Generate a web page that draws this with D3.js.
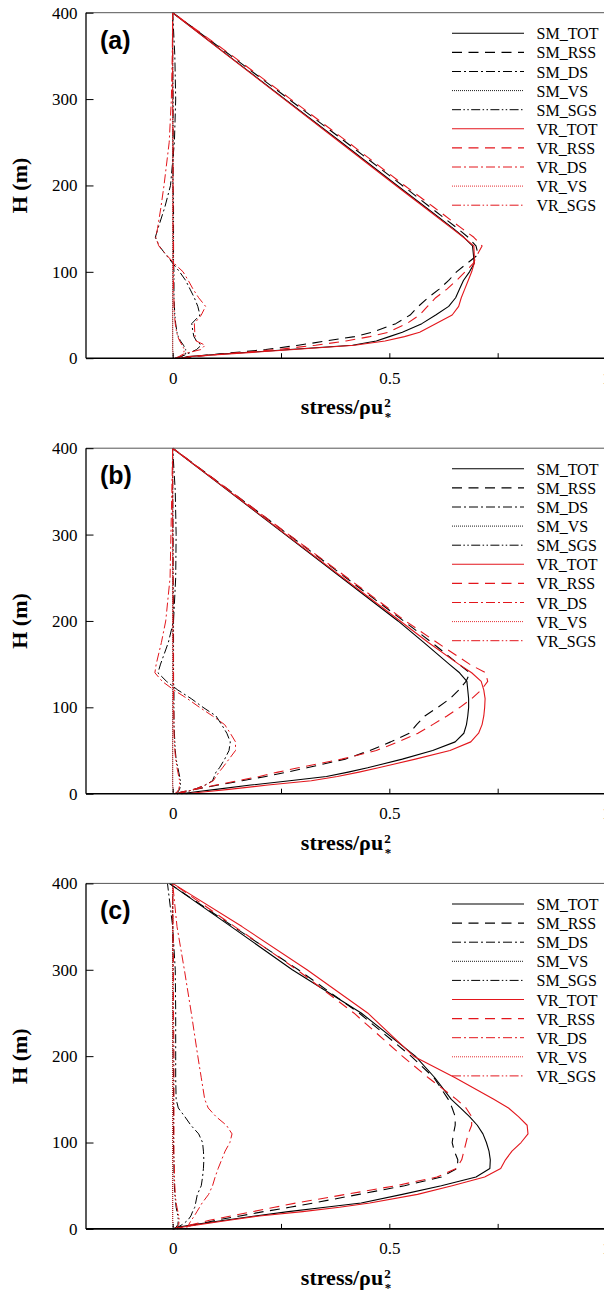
<!DOCTYPE html>
<html><head><meta charset="utf-8">
<script src="https://cdn.jsdelivr.net/npm/d3@7"></script>
<style>body{margin:0;background:#fff} svg{display:block}</style>
</head><body>
<svg id="chart" width="604" height="1296"></svg>
<script>
// ---------- DATA ----------
const seriesNames = ["SM_TOT","SM_RSS","SM_DS","SM_VS","SM_SGS","VR_TOT","VR_RSS","VR_DS","VR_VS","VR_SGS"];
const panelLabels = ["(a)","(b)","(c)"];
const xTickValues = [0, 0.25, 0.5, 0.75, 1];
const xTickLabels = ["0", "", "0.5", "", "1"];
const yTickValues = [0, 100, 200, 300, 400];
const heights = [0, 2, 5, 10, 15, 20, 25, 30, 40, 50, 60, 70, 80, 90, 100, 110, 120, 130, 140, 150, 175, 200, 250, 300, 350, 400];

// panel (a)
const aSM_TOT = [0.02, 0.035, 0.12, 0.27, 0.415, 0.47, 0.50, 0.53, 0.575, 0.607, 0.637, 0.653, 0.662, 0.671, 0.685, 0.696, 0.694, 0.692, 0.672, 0.648, 0.583, 0.518, 0.389, 0.259, 0.129, 0.0];
const aSM_RSS = [0.02, 0.05, 0.11, 0.215, 0.29, 0.355, 0.42, 0.46, 0.515, 0.548, 0.567, 0.589, 0.615, 0.637, 0.655, 0.68, 0.705, 0.70, 0.682, 0.658, 0.594, 0.53, 0.40, 0.268, 0.135, 0.0];
const aSM_DS  = [0.01, 0.02, 0.034, 0.055, 0.066, 0.055, 0.049, 0.047, 0.044, 0.063, 0.058, 0.05, 0.04, 0.03, 0.016, 0.0, -0.016, -0.031, -0.04, -0.034, -0.018, -0.005, 0.004, 0.007, 0.005, 0.0];
const aSM_VS  = [0.002, 0.001, 0.001, 0, 0, 0, 0, 0, 0, 0, 0, 0, 0, 0, 0, 0, 0, 0, 0, 0, 0, 0, 0, 0, 0, 0];
const aSM_SGS = [0.005, 0.02, 0.03, 0.03, 0.025, 0.018, 0.013, 0.01, 0.007, 0.005, 0.004, 0.003, 0.003, 0.003, 0.003, 0.002, 0.002, 0.002, 0.002, 0.002, 0.002, 0.001, 0.001, 0.001, 0.0, 0.0];
const aVR_TOT = [0.02, 0.04, 0.13, 0.28, 0.42, 0.49, 0.535, 0.57, 0.607, 0.645, 0.66, 0.666, 0.674, 0.682, 0.69, 0.696, 0.696, 0.695, 0.671, 0.645, 0.58, 0.515, 0.386, 0.257, 0.128, 0.0];
const aVR_RSS = [0.02, 0.05, 0.12, 0.24, 0.33, 0.40, 0.455, 0.497, 0.54, 0.57, 0.588, 0.607, 0.633, 0.655, 0.675, 0.694, 0.703, 0.714, 0.695, 0.668, 0.602, 0.535, 0.405, 0.272, 0.138, 0.0];
const aVR_DS  = [0.01, 0.02, 0.025, 0.065, 0.075, 0.054, 0.052, 0.051, 0.05, 0.066, 0.076, 0.06, 0.047, 0.036, 0.024, 0.003, -0.015, -0.032, -0.039, -0.035, -0.027, -0.02, -0.008, -0.003, -0.001, 0.0];
const aVR_VS  = [0.002, 0.001, 0.001, 0, 0, 0, 0, 0, 0, 0, 0, 0, 0, 0, 0, 0, 0, 0, 0, 0, 0, 0, 0, 0, 0, 0];
const aVR_SGS = [0.005, 0.015, 0.025, 0.027, 0.022, 0.016, 0.012, 0.009, 0.006, 0.004, 0.003, 0.003, 0.002, 0.002, 0.002, 0.002, 0.002, 0.002, 0.002, 0.001, 0.001, 0.001, 0.001, 0.0, 0.0, 0.0];

// panel (b)
const bSM_TOT = [0.02, 0.05, 0.1, 0.18, 0.27, 0.355, 0.405, 0.45, 0.53, 0.6, 0.652, 0.672, 0.678, 0.681, 0.683, 0.683, 0.681, 0.679, 0.662, 0.638, 0.58, 0.52, 0.39, 0.26, 0.13, 0.0];
const bSM_RSS = [0.01, 0.02, 0.05, 0.105, 0.16, 0.215, 0.264, 0.31, 0.398, 0.455, 0.503, 0.546, 0.563, 0.582, 0.612, 0.64, 0.66, 0.677, 0.686, 0.66, 0.598, 0.533, 0.40, 0.267, 0.134, 0.0];
const bSM_DS  = [0.01, 0.03, 0.05, 0.075, 0.092, 0.096, 0.1, 0.108, 0.12, 0.13, 0.133, 0.125, 0.113, 0.1, 0.07, 0.043, 0.012, -0.014, -0.034, -0.028, -0.01, 0.002, 0.007, 0.008, 0.006, 0.0];
const bSM_VS  = [0.002, 0.001, 0.001, 0, 0, 0, 0, 0, 0, 0, 0, 0, 0, 0, 0, 0, 0, 0, 0, 0, 0, 0, 0, 0, 0, 0];
const bSM_SGS = [0.005, 0.012, 0.016, 0.018, 0.018, 0.016, 0.014, 0.012, 0.008, 0.006, 0.005, 0.004, 0.003, 0.003, 0.003, 0.003, 0.003, 0.002, 0.002, 0.002, 0.002, 0.002, 0.001, 0.001, 0.0, 0.0];
const bVR_TOT = [0.03, 0.07, 0.13, 0.22, 0.32, 0.38, 0.43, 0.475, 0.56, 0.64, 0.688, 0.706, 0.714, 0.718, 0.72, 0.721, 0.718, 0.712, 0.69, 0.66, 0.59, 0.525, 0.393, 0.262, 0.131, 0.0];
const bVR_RSS = [0.01, 0.02, 0.05, 0.1, 0.15, 0.2, 0.243, 0.29, 0.39, 0.47, 0.52, 0.566, 0.60, 0.633, 0.663, 0.69, 0.712, 0.727, 0.722, 0.685, 0.61, 0.537, 0.403, 0.268, 0.134, 0.0];
const bVR_DS  = [0.01, 0.03, 0.05, 0.075, 0.094, 0.1, 0.107, 0.115, 0.13, 0.145, 0.145, 0.133, 0.12, 0.092, 0.062, 0.034, 0.003, -0.024, -0.041, -0.038, -0.026, -0.016, -0.006, -0.004, -0.002, 0.0];
const bVR_VS  = [0.002, 0.001, 0.001, 0, 0, 0, 0, 0, 0, 0, 0, 0, 0, 0, 0, 0, 0, 0, 0, 0, 0, 0, 0, 0, 0, 0];
const bVR_SGS = [0.005, 0.01, 0.014, 0.016, 0.016, 0.014, 0.012, 0.01, 0.007, 0.005, 0.004, 0.003, 0.003, 0.003, 0.002, 0.002, 0.002, 0.002, 0.002, 0.002, 0.001, 0.001, 0.001, 0.0, 0.0, 0.0];

// panel (c)
const cSM_TOT = [0.0, 0.01, 0.05, 0.12, 0.19, 0.267, 0.352, 0.435, 0.53, 0.62, 0.70, 0.732, 0.733, 0.73, 0.724, 0.716, 0.703, 0.685, 0.664, 0.643, 0.605, 0.56, 0.435, 0.276, 0.135, -0.008];
const cSM_RSS = [0.0, 0.02, 0.055, 0.1, 0.155, 0.21, 0.27, 0.325, 0.43, 0.535, 0.62, 0.657, 0.658, 0.65, 0.645, 0.648, 0.652, 0.652, 0.645, 0.636, 0.603, 0.55, 0.43, 0.29, 0.14, -0.008];
const cSM_DS  = [0.005, 0.012, 0.022, 0.035, 0.042, 0.046, 0.051, 0.053, 0.057, 0.066, 0.069, 0.071, 0.072, 0.071, 0.069, 0.06, 0.042, 0.028, 0.013, 0.008, 0.007, 0.007, 0.007, 0.006, 0.0, -0.012];
const cSM_VS  = [0.002, 0.001, 0.001, 0, 0, 0, 0, 0, 0, 0, 0, 0, 0, 0, 0, 0, 0, 0, 0, 0, 0, 0, 0, 0, 0, 0];
const cSM_SGS = [0.003, 0.008, 0.012, 0.013, 0.012, 0.01, 0.008, 0.007, 0.005, 0.004, 0.003, 0.003, 0.003, 0.002, 0.002, 0.002, 0.002, 0.002, 0.002, 0.002, 0.002, 0.001, 0.001, 0.001, 0.0, 0.0];
const cVR_TOT = [0.01, 0.02, 0.06, 0.13, 0.2, 0.3, 0.385, 0.455, 0.565, 0.645, 0.72, 0.757, 0.768, 0.783, 0.804, 0.82, 0.818, 0.798, 0.775, 0.741, 0.652, 0.556, 0.45, 0.31, 0.16, 0.0];
const cVR_RSS = [0.0, 0.02, 0.045, 0.085, 0.135, 0.185, 0.235, 0.285, 0.4, 0.515, 0.61, 0.655, 0.667, 0.672, 0.677, 0.682, 0.69, 0.69, 0.677, 0.655, 0.59, 0.53, 0.418, 0.287, 0.143, 0.0];
const cVR_DS  = [0.03, 0.034, 0.037, 0.043, 0.05, 0.056, 0.062, 0.068, 0.083, 0.092, 0.098, 0.105, 0.113, 0.121, 0.132, 0.137, 0.124, 0.1, 0.082, 0.074, 0.066, 0.058, 0.043, 0.027, 0.01, 0.0];
const cVR_VS  = [0.002, 0.001, 0.001, 0, 0, 0, 0, 0, 0, 0, 0, 0, 0, 0, 0, 0, 0, 0, 0, 0, 0, 0, 0, 0, 0, 0];
const cVR_SGS = [0.004, 0.01, 0.014, 0.015, 0.014, 0.012, 0.01, 0.008, 0.006, 0.005, 0.004, 0.004, 0.003, 0.003, 0.003, 0.003, 0.003, 0.003, 0.003, 0.003, 0.003, 0.003, 0.002, 0.002, 0.001, 0.0];

const panelSeries = [
  [aSM_TOT, aSM_RSS, aSM_DS, aSM_VS, aSM_SGS, aVR_TOT, aVR_RSS, aVR_DS, aVR_VS, aVR_SGS],
  [bSM_TOT, bSM_RSS, bSM_DS, bSM_VS, bSM_SGS, bVR_TOT, bVR_RSS, bVR_DS, bVR_VS, bVR_SGS],
  [cSM_TOT, cSM_RSS, cSM_DS, cSM_VS, cSM_SGS, cVR_TOT, cVR_RSS, cVR_DS, cVR_VS, cVR_SGS]
];

// ---------- STYLE ----------
const RED = "#e3161c";
const dashFor = {TOT: null, RSS: "10,6.5", DS: "9,3,2,3", VS: "1,1", SGS: "9,2.4,1.5,2.4,1.5,2.4"};
const widthFor = {TOT: 1.1, RSS: 1.1, DS: 1.0, VS: 0.9, SGS: 1.0};
function styleOf(name) {
  const [grp, comp] = name.split("_");
  return {color: grp === "SM" ? "#000" : RED, dash: dashFor[comp], width: widthFor[comp], comp};
}

const svg = d3.select("#chart");
const x = d3.scaleLinear().domain([-0.2, 1.0]).range([86, 606]);
const panelTops = [12.7, 448.2, 883.4];
const panelH = 345.5;
const serif = "'Liberation Serif','Times New Roman',serif";

panelTops.forEach((top, pi) => {
  const bottom = top + panelH;
  const y = d3.scaleLinear().domain([0, 400]).range([bottom, top]);
  const g = svg.append("g");

  // series
  const line = d3.line().x(d => x(d.v)).y(d => y(d.h));
  seriesNames.forEach((name, si) => {
    const st = styleOf(name);
    const pts = heights.map((h, i) => ({h, v: panelSeries[pi][si][i]}));
    g.append("path").datum(pts)
      .attr("d", line)
      .attr("fill", "none")
      .attr("stroke", st.color)
      .attr("stroke-width", st.width)
      .attr("stroke-dasharray", st.dash)
      .attr("stroke-linejoin", "round");
  });

  // spines
  g.append("line").attr("x1", 86).attr("x2", 606).attr("y1", top).attr("y2", top)
    .attr("stroke", "#555").attr("stroke-width", 1);
  g.append("line").attr("x1", 86).attr("x2", 86).attr("y1", top).attr("y2", bottom)
    .attr("stroke", "#000").attr("stroke-width", 1.3);
  g.append("line").attr("x1", 86).attr("x2", 606).attr("y1", bottom).attr("y2", bottom)
    .attr("stroke", "#000").attr("stroke-width", 1.6);

  // axes
  const xAxis = d3.axisBottom(x).tickValues(xTickValues)
    .tickFormat((d, i) => xTickLabels[i]).tickSizeInner(-5).tickSizeOuter(0).tickPadding(13.5);
  const gx = g.append("g").attr("transform", `translate(0,${bottom})`).call(xAxis);
  gx.attr("font-family", serif);
  gx.select(".domain").remove();
  gx.selectAll(".tick line").attr("stroke", "#000");
  gx.selectAll("text").attr("font-family", serif).attr("font-size", 17).attr("fill", "#000");

  const yAxis = d3.axisLeft(y).tickValues(yTickValues).tickSizeInner(-7.5).tickSizeOuter(0).tickPadding(8.5);
  const gy = g.append("g").attr("transform", `translate(86,0)`).call(yAxis);
  gy.attr("font-family", serif);
  gy.select(".domain").remove();
  gy.selectAll(".tick line").attr("stroke", "#000");
  gy.selectAll("text").attr("font-family", serif).attr("font-size", 17).attr("fill", "#000");

  // axis titles
  g.append("text").attr("transform", `translate(27,${(top + bottom) / 2}) rotate(-90)`)
    .attr("text-anchor", "middle").attr("font-family", serif).attr("font-weight", "bold")
    .attr("font-size", 22).text("H (m)");

  const base = bottom + 56;
  const xt = g.append("text").attr("y", base).attr("font-family", serif)
    .attr("font-weight", "bold").attr("font-size", 22).text("stress/ρu");
  const w = xt.node().getComputedTextLength();
  const x0 = 346 - (w + 8) / 2;
  xt.attr("x", x0);
  g.append("text").attr("x", x0 + w + 1).attr("y", base - 7)
    .attr("font-family", serif).attr("font-weight", "bold").attr("font-size", 13).text("2");
  g.append("text").attr("x", x0 + w + 1.5).attr("y", base + 7)
    .attr("font-family", serif).attr("font-weight", "bold").attr("font-size", 13).text("*");

  // panel label
  g.append("text").attr("x", 100).attr("y", top + 36)
    .attr("font-family", "'Liberation Sans',Arial,sans-serif").attr("font-weight", "bold")
    .attr("font-size", 25).text(panelLabels[pi]);

  // legend
  const lg = g.append("g");
  seriesNames.forEach((name, si) => {
    const st = styleOf(name);
    const ly = top + 20.6 + si * 19.1;
    lg.append("line").attr("x1", 452).attr("x2", 524).attr("y1", ly).attr("y2", ly)
      .attr("stroke", st.color).attr("stroke-width", st.width)
      .attr("stroke-dasharray", st.dash);
    lg.append("text").attr("x", 536.5).attr("y", ly + 6)
      .attr("font-family", serif).attr("font-size", 16).text(name);
  });
});
</script>
</body></html>
